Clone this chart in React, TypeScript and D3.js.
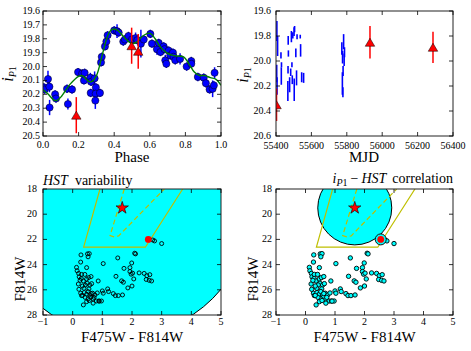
import React from "react";
import * as d3 from "d3";

// ---- light curve (phase folded) ----
const phase = [0.005, 0.01, 0.028, 0.036, 0.037, 0.068, 0.073, 0.135, 0.14, 0.163, 0.197, 0.22, 0.234, 0.23, 0.266, 0.27, 0.268, 0.29, 0.297, 0.296, 0.294, 0.32, 0.326, 0.33, 0.348, 0.356, 0.363, 0.4, 0.416, 0.425, 0.451, 0.46, 0.48, 0.5, 0.52, 0.53, 0.55, 0.566, 0.603, 0.612, 0.64, 0.65, 0.66, 0.678, 0.683, 0.687, 0.693, 0.706, 0.715, 0.73, 0.734, 0.743, 0.77, 0.807, 0.833, 0.833, 0.87, 0.903, 0.915, 0.936, 0.953, 0.96, 0.964];
const phaseMag = [20.15, 20.165, 20.09, 20.145, 20.295, 20.2, 20.23, 20.16, 20.27, 20.165, 20.04, 20.05, 20.045, 20.1, 20.08, 20.11, 20.19, 20.085, 20.15, 20.195, 20.245, 20.19, 19.97, 19.93, 19.855, 19.82, 19.775, 19.74, 19.745, 19.755, 19.82, 19.805, 19.78, 19.805, 19.795, 19.81, 19.835, 19.805, 19.765, 19.835, 19.875, 19.83, 19.895, 19.855, 19.875, 19.955, 19.98, 19.885, 19.92, 19.9, 19.93, 19.955, 19.945, 20.0, 19.96, 19.98, 20.075, 20.08, 20.12, 20.165, 20.16, 20.135, 20.045];
const phaseErr = [0.03, 0.03, 0.06, 0.04, 0.055, 0.03, 0.03, 0.03, 0.04, 0.03, 0.03, 0.03, 0.03, 0.03, 0.035, 0.03, 0.03, 0.05, 0.03, 0.035, 0.06, 0.03, 0.03, 0.03, 0.03, 0.03, 0.03, 0.03, 0.05, 0.03, 0.03, 0.03, 0.03, 0.03, 0.04, 0.03, 0.1, 0.03, 0.03, 0.03, 0.04, 0.03, 0.03, 0.03, 0.03, 0.04, 0.03, 0.03, 0.03, 0.03, 0.03, 0.03, 0.04, 0.03, 0.03, 0.03, 0.03, 0.03, 0.03, 0.03, 0.06, 0.03, 0.04];

const fitPhase = [0, 0.03, 0.06, 0.075, 0.1, 0.15, 0.2, 0.22, 0.25, 0.27, 0.3, 0.33, 0.36, 0.38, 0.4, 0.42, 0.45, 0.48, 0.5, 0.53, 0.56, 0.6, 0.63, 0.66, 0.7, 0.73, 0.76, 0.79, 0.82, 0.85, 0.88, 0.91, 0.94, 0.97, 1.0];
const fitMag = [20.165, 20.2, 20.24, 20.245, 20.22, 20.13, 20.07, 20.065, 20.1, 20.11, 20.065, 19.93, 19.79, 19.74, 19.73, 19.74, 19.78, 19.82, 19.835, 19.82, 19.78, 19.76, 19.8, 19.86, 19.905, 19.92, 19.925, 19.93, 19.98, 20.04, 20.065, 20.065, 20.08, 20.09, 20.135];

// HST epochs (red triangles)
const hstPhase = [0.187, 0.498, 0.535];
const hstMjd = [55403, 55931, 56287];
const hstMag = [20.35, 19.85, 19.89];
const hstErr = [0.13, 0.13, 0.125];

// ---- light curve vs MJD ----
const mjd = [55405, 55409, 55404, 55406, 55428, 55431, 55430, 55469, 55470, 55468, 55467, 55477, 55483, 55487, 55490, 55492, 55495, 55502, 55505, 55503, 55512, 55516, 55519, 55537, 55539, 55545, 55556, 55772, 55776, 55782, 55779, 55785, 55775, 55778, 55787];
const mjdMag = [19.76, 19.88, 20.1, 20.2, 19.955, 20.03, 20.12, 19.835, 19.94, 20.07, 20.24, 20.19, 20.09, 19.805, 20.03, 20.15, 19.795, 19.765, 19.745, 20.23, 19.935, 20.135, 19.805, 19.805, 19.915, 20.13, 20.135, 19.9, 19.97, 19.845, 20.08, 19.99, 20.18, 20.25, 19.93];
const mjdErr = [0.08, 0.08, 0.07, 0.07, 0.025, 0.02, 0.07, 0.035, 0.025, 0.03, 0.08, 0.06, 0.03, 0.045, 0.02, 0.035, 0.025, 0.035, 0.025, 0.09, 0.035, 0.06, 0.02, 0.015, 0.05, 0.04, 0.04, 0.05, 0.05, 0.06, 0.04, 0.05, 0.09, 0.04, 0.04];

// ---- HST colour-magnitude diagram ----
const cmdColor = [2.7, 2.76, 3.0, 0.28, 0.5, 0.56, 0.52, 0.27, 0.47, 1.03, 1.52, 2.09, 2.12, 1.99, 1.93, 1.73, 1.93, 1.97, 2.02, 1.46, 2.24, 2.41, 2.5, 2.6, 2.48, 2.58, 2.66, 2.06, 1.65, 1.71, 2.0, 1.86, 0.13, 0.15, 0.2, 0.22, 0.3, 0.41, 0.29, 0.36, 0.47, 0.54, 0.62, 0.49, 0.43, 0.58, 0.64, 0.86, 0.38, 0.55, 0.27, 0.3, 0.39, 0.47, 0.52, 0.58, 0.61, 0.67, 0.75, 0.83, 0.52, 0.47, 0.36, 0.69, 0.8, 0.88, 0.97, 1.0, 1.03, 1.18, 1.21, 1.37, 1.44, 1.54, 1.68, 0.69, 0.19, 0.21, 0.25, 0.33, 0.62, 0.72, 0.42, 0.56, 0.9, 0.33];
const cmdMag = [22.05, 22.12, 22.33, 23.23, 23.15, 23.13, 23.38, 23.8, 24.24, 23.92, 23.47, 23.1, 23.15, 23.87, 24.24, 24.3, 24.55, 24.76, 24.68, 24.93, 24.66, 24.7, 24.88, 24.8, 25.18, 25.25, 25.3, 25.14, 25.29, 25.4, 25.7, 25.85, 24.22, 24.49, 24.7, 24.97, 24.78, 24.78, 25.1, 25.3, 25.14, 25.03, 24.95, 25.48, 25.62, 25.62, 25.51, 25.3, 25.88, 25.93, 26.27, 26.46, 26.22, 26.35, 26.14, 26.41, 26.57, 26.27, 26.41, 26.25, 26.73, 26.94, 27.2, 26.73, 26.89, 26.89, 26.89, 26.09, 26.27, 25.93, 26.14, 26.3, 26.46, 26.46, 26.41, 27.06, 25.54, 25.96, 25.25, 25.7, 26.3, 26.6, 26.6, 26.85, 26.9, 26.45];
const starCM = [1.67, 19.5];
const dotCM = [2.55, 22.0];
const boxOuter = [[0.92, 18], [0.37, 22.62], [2.45, 22.62], [3.71, 18]];
const boxInner = [[1.74, 18], [1.26, 21.7], [1.4, 21.8], [1.55, 21.72], [3.09, 18]];

// ticks
const phaseTicks = [0, 0.2, 0.4, 0.6, 0.8, 1.0];
const magTicksA = [19.6, 19.7, 19.8, 19.9, 20.0, 20.1, 20.2, 20.3, 20.4, 20.5];
const mjdTicks = [55400, 55600, 55800, 56000, 56200, 56400];
const magTicksB = [19.6, 19.8, 20.0, 20.2, 20.4, 20.6];
const colorTicks = [-1, 0, 1, 2, 3, 4, 5];
const f814Ticks = [18, 20, 22, 24, 26, 28];

const FONT = "Liberation Serif, DejaVu Serif, serif";
const YEL = "#bfbf00";
const CYAN = "#00ffff";

const tri = (w, h) => `M0,${-h / 2}L${w / 2},${h / 2}L${-w / 2},${h / 2}Z`;
const star = d3.symbol().type(d3.symbolStar).size(48)();

function Frame({ id, box, xs, ys, xTicks, yTicks, xFmt, yFmt, xPad, yPad, children }) {
  return (
    <g>
      <defs>
        <clipPath id={id}>
          <rect x={box.l} y={box.t} width={box.r - box.l} height={box.b - box.t} />
        </clipPath>
      </defs>
      <g clipPath={`url(#${id})`}>{children}</g>
      <rect x={box.l} y={box.t} width={box.r - box.l} height={box.b - box.t} fill="none" stroke="#222" strokeWidth={1} />
      <g stroke="#000" strokeWidth={0.8}>
        {xTicks.map((v) => (
          <g key={"x" + v}>
            <line x1={xs(v)} x2={xs(v)} y1={box.b} y2={box.b - 4} />
            <line x1={xs(v)} x2={xs(v)} y1={box.t} y2={box.t + 4} />
          </g>
        ))}
        {yTicks.map((v) => (
          <g key={"y" + v}>
            <line x1={box.l} x2={box.l + 4} y1={ys(v)} y2={ys(v)} />
            <line x1={box.r} x2={box.r - 4} y1={ys(v)} y2={ys(v)} />
          </g>
        ))}
      </g>
      <g style={{ fontFamily: FONT, fontSize: 10 }} fill="#000">
        {xTicks.map((v) => (
          <text key={"xl" + v} x={xs(v)} y={box.b + xPad} textAnchor="middle">{xFmt(v)}</text>
        ))}
        {yTicks.map((v) => (
          <text key={"yl" + v} x={box.l - yPad} y={ys(v)} dy="0.3em" textAnchor="end">{yFmt(v)}</text>
        ))}
      </g>
    </g>
  );
}

function IP1({ x, y }) {
  return (
    <text transform={`translate(${x},${y}) rotate(-90)`} textAnchor="middle" style={{ fontFamily: FONT, fontSize: 16 }}>
      <tspan fontStyle="italic">i</tspan>
      <tspan fontSize={10} dy={3} fontStyle="italic">P</tspan>
      <tspan fontSize={10}>1</tspan>
    </text>
  );
}

function PhasePanel() {
  const box = { l: 43, r: 221, t: 11, b: 136 };
  const xs = d3.scaleLinear().domain([0, 1]).range([box.l, box.r]);
  const ys = d3.scaleLinear().domain([19.6, 20.5]).range([box.t, box.b]);
  const fit = d3.line().x((d) => xs(d[0])).y((d) => ys(d[1])).curve(d3.curveCatmullRom)(fitPhase.map((p, i) => [p, fitMag[i]]));
  return (
    <g>
      <Frame id="c1" box={box} xs={xs} ys={ys} xTicks={phaseTicks} yTicks={magTicksA} xFmt={d3.format(".1f")} yFmt={d3.format(".1f")} xPad={12} yPad={3}>
        {phase.map((p, i) => (
          <line key={"e" + i} x1={xs(p)} x2={xs(p)} y1={ys(phaseMag[i] - phaseErr[i])} y2={ys(phaseMag[i] + phaseErr[i])} stroke="#0000ff" strokeWidth={1.5} />
        ))}
        {phase.map((p, i) => (
          <circle key={"p" + i} cx={xs(p)} cy={ys(phaseMag[i])} r={3.6} fill="#0000ff" stroke="#000" strokeWidth={0.5} />
        ))}
        <path d={fit} fill="none" stroke="#008000" strokeWidth={1.4} />
        {hstPhase.map((p, i) => (
          <g key={"h" + i}>
            <line x1={xs(p)} x2={xs(p)} y1={ys(hstMag[i] - hstErr[i])} y2={ys(hstMag[i] + hstErr[i])} stroke="#ff0000" strokeWidth={1.5} />
            <path d={tri(9.5, 8)} transform={`translate(${xs(p)},${ys(hstMag[i])})`} fill="#ff0000" stroke="#000" strokeWidth={0.5} />
          </g>
        ))}
      </Frame>
      <IP1 x={13} y={74} />
      <text x={132} y={162} textAnchor="middle" style={{ fontFamily: FONT, fontSize: 15 }}>Phase</text>
    </g>
  );
}

function MjdPanel() {
  const box = { l: 276, r: 453, t: 11, b: 136 };
  const xs = d3.scaleLinear().domain([55400, 56400]).range([box.l, box.r]);
  const ys = d3.scaleLinear().domain([19.6, 20.6]).range([box.t, box.b]);
  return (
    <g>
      <Frame id="c2" box={box} xs={xs} ys={ys} xTicks={mjdTicks} yTicks={magTicksB} xFmt={d3.format("d")} yFmt={d3.format(".1f")} xPad={13} yPad={5}>
        {mjd.map((m, i) => (
          <line key={"e" + i} x1={xs(m)} x2={xs(m)} y1={ys(mjdMag[i] - mjdErr[i])} y2={ys(mjdMag[i] + mjdErr[i])} stroke="#0000ff" strokeWidth={1.6} />
        ))}
        {hstMjd.map((m, i) => (
          <g key={"h" + i}>
            <line x1={xs(m)} x2={xs(m)} y1={ys(hstMag[i] - hstErr[i])} y2={ys(hstMag[i] + hstErr[i])} stroke="#ff0000" strokeWidth={1.5} />
            <path d={tri(9.5, 8)} transform={`translate(${xs(m)},${ys(hstMag[i])})`} fill="#ff0000" stroke="#000" strokeWidth={0.5} />
          </g>
        ))}
      </Frame>
      <IP1 x={248} y={75} />
      <text x={364} y={162} textAnchor="middle" style={{ fontFamily: FONT, fontSize: 15 }}>MJD</text>
    </g>
  );
}

function CmdPanel({ id, box, filled }) {
  const xs = d3.scaleLinear().domain([-1, 5]).range([box.l, box.r]);
  const ys = d3.scaleLinear().domain([18, 28]).range([box.t, box.b]);
  const line = d3.line().x((d) => xs(d[0])).y((d) => ys(d[1]));
  const sx = xs(starCM[0]);
  const sy = ys(starCM[1]);
  return (
    <g>
      <Frame id={id} box={box} xs={xs} ys={ys} xTicks={colorTicks} yTicks={f814Ticks} xFmt={d3.format("d")} yFmt={d3.format("d")} xPad={10} yPad={filled ? 4 : 6}>
        <circle cx={sx} cy={sy} r={filled ? 37 : 128} fill={CYAN} stroke="#000" strokeWidth={1} />
        <path d={line(boxOuter)} fill="none" stroke={YEL} strokeWidth={1.2} />
        <path d={line(boxInner)} fill="none" stroke={YEL} strokeWidth={1.2} strokeDasharray="5,3" />
        {cmdColor.map((c, i) => (
          <circle key={i} cx={xs(c)} cy={ys(cmdMag[i])} r={filled ? 2.2 : 2} fill={filled ? CYAN : "none"} stroke="#000" strokeWidth={0.9} />
        ))}
        {filled && <circle cx={xs(dotCM[0])} cy={ys(dotCM[1])} r={5.5} fill={CYAN} stroke="#000" strokeWidth={0.9} />}
        <circle cx={xs(dotCM[0])} cy={ys(dotCM[1])} r={3.4} fill="#ff0000" />
        <path d={star} transform={`translate(${sx},${sy})`} fill="#ff0000" stroke="#000" strokeWidth={0.6} />
      </Frame>
      <text transform={`translate(${box.l - 18},${279}) rotate(-90)`} textAnchor="middle" style={{ fontFamily: FONT, fontSize: 15 }}>F814W</text>
      <text x={(box.l + box.r) / 2} y={341.5} textAnchor="middle" style={{ fontFamily: FONT, fontSize: 15 }}>F475W - F814W</text>
    </g>
  );
}

export default function App() {
  const boxL = { l: 43, r: 221, t: 189, b: 315 };
  const boxR = { l: 276, r: 453, t: 189, b: 315 };
  return (
    <svg width={471} height={351} style={{ position: "absolute", left: 0, top: 0, background: "#fff", fontFamily: FONT }}>
      <PhasePanel />
      <MjdPanel />
      <CmdPanel id="c3" box={boxL} filled={false} />
      <CmdPanel id="c4" box={boxR} filled={true} />
      <text x={43} y={185} style={{ fontFamily: FONT, fontSize: 14 }}>
        <tspan fontStyle="italic">HST</tspan>
        <tspan dx={7}>variability</tspan>
      </text>
      <text x={453} y={183} textAnchor="end" style={{ fontFamily: FONT, fontSize: 14 }}>
        <tspan fontStyle="italic">i</tspan>
        <tspan fontSize={10} dy={3} fontStyle="italic">P</tspan>
        <tspan fontSize={10}>1</tspan>
        <tspan dy={-3} dx={3}>−</tspan>
        <tspan dx={3} fontStyle="italic">HST</tspan>
        <tspan dx={6}>correlation</tspan>
      </text>
    </svg>
  );
}
